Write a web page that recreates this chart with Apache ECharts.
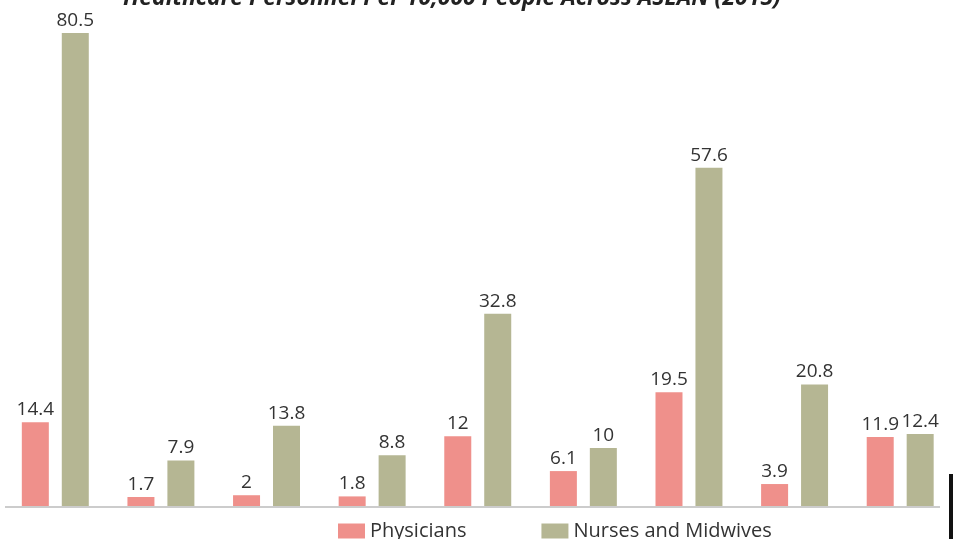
<!DOCTYPE html>
<html>
<head>
<meta charset="utf-8">
<script src="https://cdn.jsdelivr.net/npm/echarts@6/dist/echarts.min.js"></script>
<style>
html,body{margin:0;padding:0;background:#fff;}
#chart{width:953px;height:539px;}
</style>
</head>
<body>
<div id="chart"></div>
<script>
const categories = ['Brunei', 'Cambodia', 'Indonesia', 'Laos', 'Malaysia', 'Myanmar', 'Singapore', 'Thailand', 'Vietnam'];
const physicians = [14.4, 1.7, 2, 1.8, 12, 6.1, 19.5, 3.9, 11.9];
const nurses = [80.5, 7.9, 13.8, 8.8, 32.8, 10, 57.6, 20.8, 12.4];
const seriesNames = ['Physicians', 'Nurses and Midwives'];
const titleText = 'Healthcare Personnel Per 10,000 People Across ASEAN (2015)';

const chart = echarts.init(document.getElementById('chart'), null, {renderer: 'canvas'});
const FONT = '"Open Sans", "Noto Sans", sans-serif';
const labelStyle = {
  show: true, position: 'top', distance: 3,
  color: '#333', fontSize: 19, fontFamily: FONT
};
chart.setOption({
  animation: false,
  backgroundColor: '#fff',
  title: {
    text: titleText,
    left: 447, top: -18, textAlign: 'center',
    textStyle: {fontFamily: FONT, fontSize: 23, fontWeight: 'bold', fontStyle: 'italic', color: '#222'}
  },
  legend: {
    data: seriesNames,
    left: 333, top: 516,
    itemWidth: 27, itemHeight: 15, itemGap: 75,
    icon: 'rect',
    textStyle: {fontFamily: FONT, fontSize: 20, color: '#333'}
  },
  grid: {left: 2.5, width: 953, top: 33, height: 474, containLabel: false},
  xAxis: {
    type: 'category', data: categories,
    axisLine: {show: false}, axisTick: {show: false}, axisLabel: {show: false}
  },
  yAxis: {
    type: 'value', min: 0, max: 80.5,
    show: false, splitLine: {show: false}
  },
  series: [
    {name: seriesNames[0], type: 'bar', data: physicians, barWidth: 27, barGap: '48%',
     itemStyle: {color: '#ef908b'}, label: labelStyle},
    {name: seriesNames[1], type: 'bar', data: nurses, barWidth: 27, barGap: '48%',
     itemStyle: {color: '#b5b693'}, label: labelStyle}
  ],
  graphic: [
    {type: 'line', shape: {x1: 5, y1: 507, x2: 940, y2: 507}, style: {stroke: '#cccccc', lineWidth: 2}, z: 10},
    {type: 'rect', shape: {x: 949, y: 474, width: 4, height: 65}, style: {fill: '#111'}}
  ]
});
</script>
</body>
</html>
